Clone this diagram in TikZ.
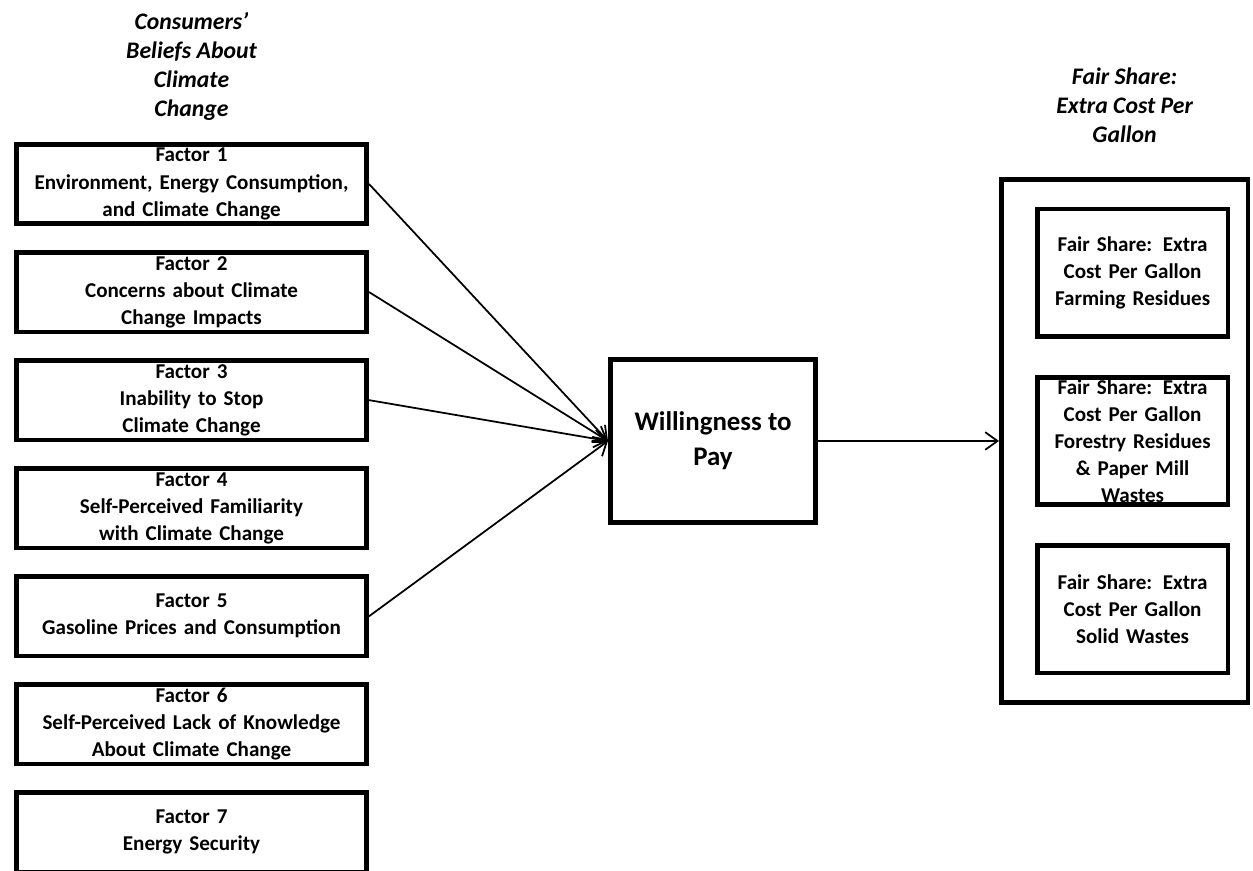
\documentclass[tikz,border=0pt]{standalone}
\usepackage{fontspec}
\setmainfont{Carlito}
\usetikzlibrary{arrows.meta, positioning}

\begin{document}
\begin{tikzpicture}[thick,
    factor/.style={draw, line width=2.6pt,
        minimum width=7.01cm, minimum height=1.59cm,
        text width=6.8cm, align=center, inner sep=0pt,
        font=\fontsize{12}{15.4}\selectfont\bfseries},
    share/.style={draw, line width=2.6pt,
        minimum width=3.81cm, minimum height=2.55cm,
        text width=3.7cm, align=center, inner sep=0pt,
        font=\fontsize{12}{15.4}\selectfont\bfseries},
    heading/.style={align=center,
        font=\fontsize{13.5}{16.5}\selectfont\bfseries\itshape},
    link/.style={line width=1pt, -{Straight Barb[length=7pt,width=10pt]}}
]
\useasboundingbox (0,0) rectangle (25.06,17.4);

% Factor boxes
\node[factor] (f1) at (3.83,13.72) {Factor 1\\Environment, Energy Consumption,\\and Climate Change};
\node[factor, below=0.48cm of f1] (f2) {Factor 2\\Concerns about Climate\\Change Impacts};
\node[factor, below=0.48cm of f2] (f3) {Factor 3\\Inability to Stop\\Climate Change};
\node[factor, below=0.48cm of f3] (f4) {Factor 4\\Self-Perceived Familiarity\\with Climate Change};
\node[factor, below=0.48cm of f4] (f5) {Factor 5\\Gasoline Prices and Consumption};
\node[factor, below=0.48cm of f5] (f6) {Factor 6\\Self-Perceived Lack of Knowledge\\About Climate Change};
\node[factor, below=0.48cm of f6] (f7) {Factor 7\\Energy Security};

\node[heading, above=0.3cm of f1] (beliefs) {Consumers'\\Beliefs About\\Climate\\Change};

% Willingness to pay
\node[draw, line width=2.6pt,
    minimum width=4.11cm,
    minimum height=3.27cm,
    align=center,
    font=\fontsize{15.3}{20}\selectfont\bfseries
] (wtp) at (14.26,8.58) {Willingness to\\Pay};

% Fair share group
\node[draw, line width=2.6pt,
    right=3.62cm of wtp,
    minimum width=4.93cm,
    minimum height=10.45cm
] (fair) {};

\node[share, xshift=0.16cm] (fs2) at (fair.center) {Fair Share: Extra\\Cost Per Gallon\\Forestry Residues\\\& Paper Mill\\Wastes};
\node[share, above=0.72cm of fs2] (fs1) {Fair Share: Extra\\Cost Per Gallon\\Farming Residues};
\node[share, below=0.72cm of fs2] (fs3) {Fair Share: Extra\\Cost Per Gallon\\Solid Wastes};

\node[heading, above=0.57cm of fair] (faircost) {Fair Share:\\Extra Cost Per\\Gallon};

% Arrows
\draw [link] (f1.east) -- (wtp.west);
\draw [link] (f2.east) -- (wtp.west);
\draw [link] (f3.east) -- (wtp.west);
\draw [link] (f5.east) -- (wtp.west);
\draw [link] (wtp.east) -- (fair.west);

\end{tikzpicture}
\end{document}
